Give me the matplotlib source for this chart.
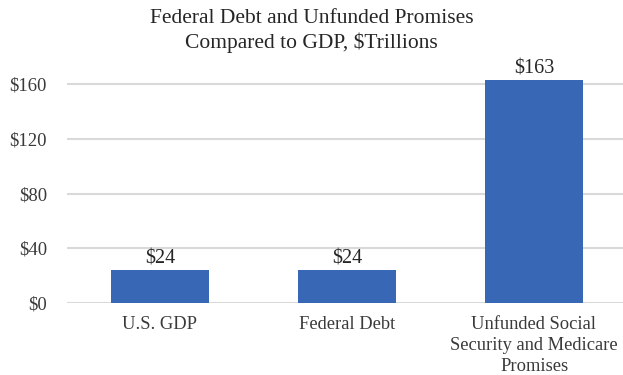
import matplotlib
matplotlib.use("Agg")
import matplotlib.pyplot as plt

categories = ["U.S. GDP", "Federal Debt", "Unfunded Social\nSecurity and Medicare\nPromises"]
values = [24, 24, 163]
value_labels = ["$24", "$24", "$163"]
yticks = [0, 40, 80, 120, 160]
ytick_labels = ["$0", "$40", "$80", "$120", "$160"]

plt.rcParams['font.family'] = ['Liberation Serif', 'DejaVu Serif']

fig = plt.figure(figsize=(6.23, 3.75), dpi=100)
W, H = 623, 375
ymax = 175
ppu = 219 / 160
left, right = 66.5, 623
bottom_px = 303
top_px = bottom_px - ymax * ppu
ax = fig.add_axes([left / W, 1 - bottom_px / H, (right - left) / W, (bottom_px - top_px) / H])

x = range(len(categories))
ax.bar(x, values, width=0.525, color="#3867B5", zorder=3, clip_on=False)
for xi, v, lab in zip(x, values, value_labels):
    ax.text(xi, v + 1.0, lab, ha="center", va="bottom", fontsize=14.5, color="#262626")

ax.set_ylim(0, ymax)
ax.set_xlim(-0.5, 2.476)
ax.set_yticks(yticks)
ax.set_yticklabels(ytick_labels)
ax.set_xticks(list(x))
ax.set_xticklabels(categories, fontsize=13.3, color="#3a3a3a", linespacing=1.3, va="top")
ax.tick_params(axis="y", length=0, labelsize=13.5, labelcolor="#3a3a3a", pad=14)
ax.tick_params(axis="x", length=0, pad=9.5)
ax.grid(axis="y", color="#d9d9d9", linewidth=1.5, zorder=0)
for s in ax.spines.values():
    s.set_visible(False)

fig.text(0.5, 1 - 31 / H, "Federal Debt and Unfunded Promises\nCompared to GDP, $Trillions",
         ha="center", va="center", fontsize=15.5, color="#262626", linespacing=1.3)

fig.savefig("out.png", dpi=100)
